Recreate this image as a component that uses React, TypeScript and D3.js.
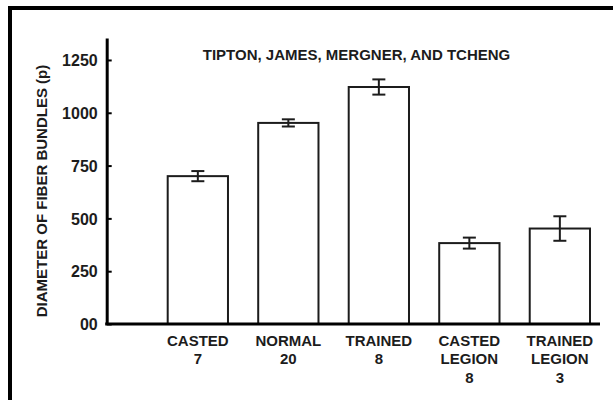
import React, { useEffect, useRef } from "react"
import * as d3 from "d3"

// bar data
const categories = ["CASTED", "NORMAL", "TRAINED", "CASTED LEGION", "TRAINED LEGION"]
const sampleSizes = [7, 20, 8, 8, 3]
const means = [700, 952, 1122, 383, 452]
const errors = [24, 17, 36, 26, 58]

const yTicks = [0, 250, 500, 750, 1000, 1250]
const yTickLabels = ["00", "250", "500", "750", "1000", "1250"]

const title = "TIPTON, JAMES, MERGNER, AND TCHENG"
const yTitle = "DIAMETER OF FIBER BUNDLES (p)"

const width = 613
const height = 400
const font = "'Liberation Sans', Arial, sans-serif"
const ink = "#1c1c1c"

const App = () => {
  const ref = useRef<SVGSVGElement | null>(null)

  useEffect(() => {
    const svg = d3.select(ref.current)
    svg.selectAll("*").remove()

    // frame (right and bottom edges fall outside the picture)
    svg
      .append("path")
      .attr("d", `M10,${height + 5}V8H${width + 5}`)
      .attr("fill", "none")
      .attr("stroke", "#000")
      .attr("stroke-width", 4)

    const x = d3
      .scaleBand()
      .domain(categories)
      .range([167.7, 590])
      .paddingInner(0.334)
      .paddingOuter(0)

    const y = d3.scaleLinear().domain([0, 1354]).range([324, 38])

    const axisX = 106.7

    // bars
    svg
      .append("g")
      .selectAll("rect")
      .data(categories)
      .join("rect")
      .attr("x", (d) => x(d)!)
      .attr("y", (d, i) => y(means[i]))
      .attr("width", x.bandwidth())
      .attr("height", (d, i) => y(0) - y(means[i]))
      .attr("fill", "#fff")
      .attr("stroke", ink)
      .attr("stroke-width", 2)

    // error bars
    const eb = svg
      .append("g")
      .attr("stroke", ink)
      .attr("stroke-width", 2)
      .selectAll("g")
      .data(categories)
      .join("g")
      .attr("transform", (d) => `translate(${x(d)! + x.bandwidth() / 2},0)`)
    eb.append("line")
      .attr("y1", (d, i) => y(means[i] + errors[i]))
      .attr("y2", (d, i) => y(means[i] - errors[i]))
    eb.append("line")
      .attr("x1", -6.5)
      .attr("x2", 6.5)
      .attr("y1", (d, i) => y(means[i] + errors[i]))
      .attr("y2", (d, i) => y(means[i] + errors[i]))
    eb.append("line")
      .attr("x1", -6.5)
      .attr("x2", 6.5)
      .attr("y1", (d, i) => y(means[i] - errors[i]))
      .attr("y2", (d, i) => y(means[i] - errors[i]))

    // y axis with inward ticks
    const yAxis = svg.append("g").attr("transform", `translate(${axisX},0)`)
    yAxis
      .call(
        d3
          .axisRight(y)
          .tickValues(yTicks)
          .tickSize(5)
          .tickSizeOuter(0)
          .tickFormat((d, i) => yTickLabels[i])
      )
    yAxis.select(".domain").attr("stroke", "#000").attr("stroke-width", 3)
    yAxis.selectAll(".tick line").attr("stroke", "#000").attr("stroke-width", 2)
    yAxis
      .selectAll(".tick text")
      .attr("x", -9)
      .attr("dy", "0.36em")
      .attr("text-anchor", "end")
      .attr("font-family", font)
      .attr("font-size", 16)
      .attr("font-weight", "bold")
      .attr("fill", ink)

    // x baseline
    svg
      .append("line")
      .attr("x1", axisX - 1.5)
      .attr("x2", 600)
      .attr("y1", y(0))
      .attr("y2", y(0))
      .attr("stroke", "#000")
      .attr("stroke-width", 3)

    // category labels
    const labels = svg
      .append("g")
      .attr("font-family", font)
      .attr("font-size", 15)
      .attr("font-weight", "bold")
      .attr("fill", ink)
      .attr("text-anchor", "middle")
      .selectAll("text")
      .data(categories)
      .join("text")
      .attr("x", (d) => x(d)! + x.bandwidth() / 2)
      .attr("y", 346)
    labels
      .selectAll("tspan")
      .data((d, i) => [...d.split(" "), String(sampleSizes[i])])
      .join("tspan")
      .attr("x", function () {
        return (this as SVGTSpanElement).parentElement!.getAttribute("x")
      })
      .attr("y", (d, j) => 346 + j * 18.3)
      .text((d) => d)

    // title
    svg
      .append("text")
      .attr("x", 356.5)
      .attr("y", 60)
      .attr("text-anchor", "middle")
      .attr("font-family", font)
      .attr("font-size", 15)
      .attr("font-weight", "bold")
      .attr("fill", ink)
      .text(title)

    // y axis title
    svg
      .append("text")
      .attr("transform", "translate(47,191) rotate(-90)")
      .attr("text-anchor", "middle")
      .attr("font-family", font)
      .attr("font-size", 15)
      .attr("font-weight", "bold")
      .attr("fill", ink)
      .text(yTitle)
  }, [])

  return (
    <svg
      ref={ref}
      width={width}
      height={height}
      style={{ position: "absolute", left: 0, top: 0, background: "#fff" }}
    ></svg>
  )
}

export default App
